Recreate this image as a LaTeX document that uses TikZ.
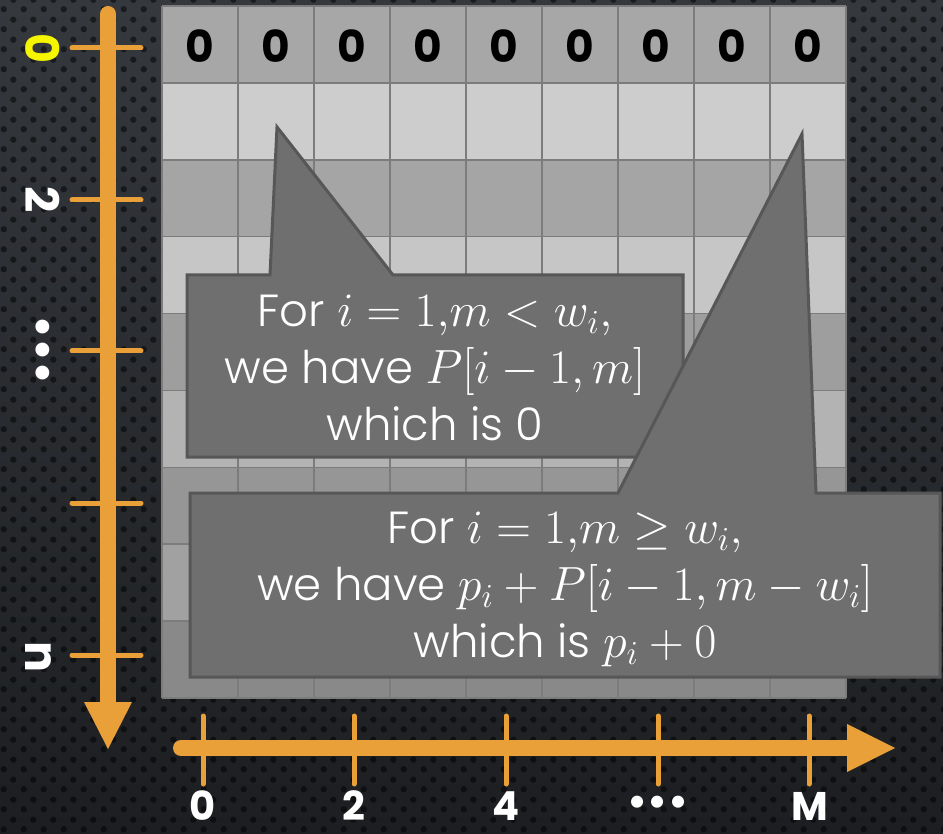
\documentclass[tikz,border=0pt]{standalone}
\usepackage{fix-cm}
\usepackage[no-math]{fontspec}
\usetikzlibrary{patterns.meta}
\newfontfamily\gothic[UprightFont={* Light}, BoldFont={* Bold}]{Poppins}
\newfontfamily\gothicb[UprightFont={* Bold}]{Poppins}
\newcommand{\mth}[1]{{\fontsize{48}{57}\selectfont$#1$}}
\definecolor{axisor}{HTML}{EAA038}
\definecolor{boxfill}{HTML}{6F6F6F}
\definecolor{boxline}{HTML}{575757}
\definecolor{gridln}{HTML}{7C7C7C}
\definecolor{bgtop}{HTML}{35383D}
\definecolor{bgbot}{HTML}{1C1E21}
\definecolor{rowA}{HTML}{A7A7A7}
\definecolor{rowB}{HTML}{CDCDCD}
\definecolor{rowC}{HTML}{A5A5A5}
\definecolor{rowD}{HTML}{C6C6C6}
\definecolor{rowE}{HTML}{9E9E9E}
\definecolor{rowF}{HTML}{B3B3B3}
\definecolor{rowG}{HTML}{969696}
\definecolor{rowH}{HTML}{A1A1A1}
\definecolor{rowI}{HTML}{898989}
\definecolor{labyel}{HTML}{F5F500}
\tikzdeclarepattern{
  name=hexdots,
  type=uncolored,
  bounding box={(0pt,0pt) and (20pt,20pt)},
  tile size={(20pt,20pt)},
  code={
    \fill (5pt,5pt) circle (3.3pt);
    \fill (15pt,15pt) circle (3.3pt);
  }
}
\tikzset{
  axisline/.style={draw=axisor, line width=16pt},
  axishead/.style={fill=axisor},
  ticksty/.style={draw=axisor, line width=5pt, line cap=round},
  calloutbox/.style={fill=boxfill, draw=boxline, line width=3pt, line join=miter},
  boxtext/.style={text=white, align=center, font=\gothic\fontsize{45}{57}\selectfont, inner sep=0pt},
  headzero/.style={text=black, font=\gothicb\fontsize{44}{50}\selectfont, inner sep=0pt},
  axlabel/.style={text=white, font=\gothicb\fontsize{40}{44}\selectfont, inner sep=0pt},
  sidelabel/.style={text=white, rotate=-90, font=\gothicb\fontsize{46}{50}\selectfont, inner sep=0pt},
  gridsty/.style={draw=gridln, line width=1.6pt}
}
\begin{document}
\begin{tikzpicture}[x=1pt,y=-1pt]
\useasboundingbox (0,0) rectangle (943,834);
% background
\shade[top color=bgtop, bottom color=bgbot] (0,0) rectangle (943,834);
\fill[pattern=hexdots, pattern color=black, fill opacity=0.5] (0,0) rectangle (943,834);
% grid rows
\foreach \r/\c in {0/rowA,1/rowB,2/rowC,3/rowD,4/rowE,5/rowF,6/rowG,7/rowH,8/rowI} {
  \fill[\c] (162,{6+76.89*\r}) rectangle (846,{6+76.89*(\r+1)});
}
\foreach \k in {0,...,9} {
  \draw[gridsty] ({162+76*\k},6) -- ({162+76*\k},698);
  \draw[gridsty] (162,{6+76.89*\k}) -- (846,{6+76.89*\k});
}
% header zeros
\foreach \k in {0,...,8} {
  \node[headzero] (z\k) at ({200+76*\k},46) {0};
}
% vertical axis
\draw[axisline, line cap=round] (108,14) -- (108,704);
\fill[axishead] (84,702) -- (132,702) -- (108,749) -- cycle;
\foreach \y in {48,200,351,503,655} {
  \draw[ticksty] (72,\y) -- (141,\y);
}
\node[sidelabel, text=labyel] (l0) at (43,48) {0};
\node[sidelabel] (l2) at (43,200) {2};
\node[sidelabel] (ldots) at (39,350) {•••};
\node[sidelabel] (ln) at (38,657) {n};
% horizontal axis
\draw[axisline, line cap=round] (181,748) -- (850,748);
\fill[axishead] (847,724) -- (847,772) -- (895,748) -- cycle;
\foreach \x in {203,354,506,658,809} {
  \draw[ticksty] (\x,716) -- (\x,784);
}
\node[axlabel] (b0) at (203,806) {0};
\node[axlabel] (b2) at (354,806) {2};
\node[axlabel] (b4) at (506,806) {4};
\node[axlabel] (bdots) at (658,806) {•••};
\node[axlabel] (bM) at (810,806) {M};
% callout 1
\draw[calloutbox] (187,275) -- (270,275) -- (277,127) -- (393,275) -- (683,275) -- (683,457) -- (187,457) -- cycle;
\node[boxtext] (t1) at (435,368) {For \mth{i=1{,}m<w_i{,}}\\we have \mth{P[i-1,m]}\\which is 0};
% callout 2
\draw[calloutbox] (190,493) -- (618,493) -- (802,134) -- (816,493) -- (940,493) -- (940,677) -- (190,677) -- cycle;
\node[boxtext] (t2) at (565,589) {For \mth{i=1{,}m\geq w_i{,}}\\we have \mth{p_i+P[i-1,m-w_i]}\\which is \mth{p_i+0}};
\end{tikzpicture}
\end{document}
